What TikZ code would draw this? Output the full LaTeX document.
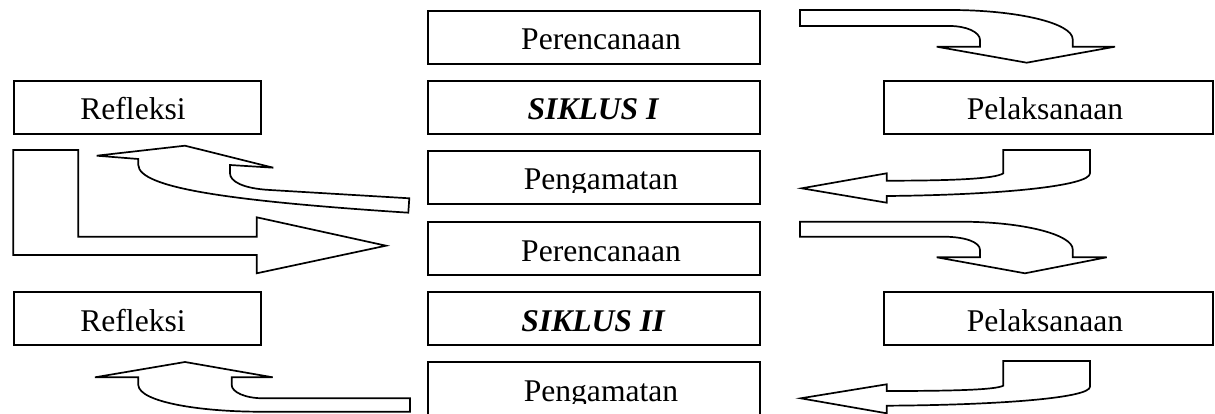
\documentclass[tikz,border=0pt]{standalone}
\usepackage{fontspec}
\setmainfont{Liberation Serif}
\begin{document}
\begin{tikzpicture}[x=1pt,y=-1pt,
  box/.style={draw, line width=2pt, inner sep=0pt, anchor=north west, minimum height=53pt},
  midbox/.style={box, minimum width=332pt},
  sidebox/.style={box, minimum width=247pt},
  rightbox/.style={box, minimum width=329pt},
  txt/.style={anchor=base, inner sep=0pt, font=\fontsize{31.6}{38}\selectfont},
  bold/.style={txt, font=\fontsize{31.6}{38}\selectfont\bfseries\itshape},
  blockarrow/.style={draw, line width=1.7pt, fill=white, line join=miter}]
\useasboundingbox (0,0) rectangle (1215,414);
\clip (0,0) rectangle (1215,414);

% central column
\node[midbox] (plan1) at (427,10) {};
\node[midbox] (cyc1)  at (427,80) {};
\node[midbox] (obs1)  at (427,150) {};
\node[midbox] (plan2) at (427,221) {};
\node[midbox] (cyc2)  at (427,291) {};
\node[midbox] (obs2)  at (427,361) {};

% side boxes
\node[sidebox]  (ref1) at (13,80) {};
\node[sidebox]  (ref2) at (13,291) {};
\node[rightbox] (act1) at (883,80) {};
\node[rightbox] (act2) at (883,291) {};

% labels
\node[txt]  (plan1t) at (601,50)  {Perencanaan};
\node[bold] (cyc1t)  at (593,120) {SIKLUS I};
\begin{scope}
  \clip (428,151) rectangle (758,192.5);
  \node[txt] (obs1t) at (601,190) {Pengamatan};
\end{scope}
\node[txt]  (plan2t) at (601,261) {Perencanaan};
\node[bold] (cyc2t)  at (593,331) {SIKLUS II};
\begin{scope}
  \clip (428,362) rectangle (758,403.5);
  \node[txt] (obs2t) at (601,401) {Pengamatan};
\end{scope}
\node[txt] (ref1t) at (133,120) {Refleksi};
\node[txt] (ref2t) at (133,331) {Refleksi};
\node[txt] (act1t) at (1045,120) {Pelaksanaan};
\node[txt] (act2t) at (1045,331) {Pelaksanaan};

% planning -> action, cycle I
\draw[blockarrow] (800,10) -- (950,10)
  .. controls (1017,10) and (1072.7,23) .. (1072.7,39.3)
  -- (1072.7,46.7) -- (1115,46.7) -- (1026.7,62.7) -- (936.7,46.7)
  -- (980,46.7) -- (980,40)
  .. controls (980,32) and (966,26) .. (950,26)
  -- (800,26) -- cycle;

% action -> observation, cycle I
\draw[blockarrow] (1090,150) -- (1003.3,150) -- (1003.3,173.3)
  .. controls (995,179) and (950,180.7) .. (886.7,180.7)
  -- (886.7,173.3) -- (801.7,188.3) -- (886.7,202.7) -- (886.7,196)
  .. controls (1000,195) and (1090,186) .. (1090,173.3)
  -- cycle;

% observation -> reflection, cycle I
\draw[blockarrow] (409.3,198.3) -- (270,190)
  .. controls (242,188.5) and (230,181) .. (230,173.3)
  -- (230,165) -- (273.3,167.7) -- (185,145.7) -- (96.7,155.7)
  -- (138.3,159) -- (138.3,165)
  .. controls (139,188) and (230,201) .. (408.3,212.7)
  -- cycle;

% reflection -> planning of cycle II
\draw[blockarrow] (13.3,150) -- (78.3,150) -- (78.3,236.7) -- (256.7,236.7)
  -- (256.7,217.3) -- (386,245.7) -- (256.7,273.3) -- (256.7,255)
  -- (13.3,255) -- cycle;

% planning -> action, cycle II
\draw[blockarrow] (800,221.7) -- (960,221.7)
  .. controls (1025,221.7) and (1072.7,235) .. (1072.7,249.3)
  -- (1072.7,257.3) -- (1106.7,257.3) -- (1025,273.3) -- (936.7,257.3)
  -- (980,257.3) -- (980,250)
  .. controls (980,242) and (965,236.7) .. (943,236.7)
  -- (800,236.7) -- cycle;

% action -> observation, cycle II
\draw[blockarrow] (1090,361) -- (1003.3,361) -- (1003.3,385.7)
  .. controls (995,390) and (950,391) .. (886.7,391)
  -- (886.7,384.3) -- (800.7,398.3) -- (886.7,413.3) -- (886.7,405.7)
  .. controls (1000,405) and (1090,398) .. (1090,386.7)
  -- cycle;

% observation -> reflection, cycle II
\draw[blockarrow] (410,398.3) -- (263.3,398.3)
  .. controls (245,398.3) and (231.7,392) .. (231.7,385)
  -- (231.7,377.3) -- (272.7,377.3) -- (185,362) -- (95,377.3)
  -- (138.3,377.3) -- (138.3,385)
  .. controls (139,402) and (200,411.7) .. (260,411.7)
  -- (410,411.7) -- cycle;
\end{tikzpicture}
\end{document}
